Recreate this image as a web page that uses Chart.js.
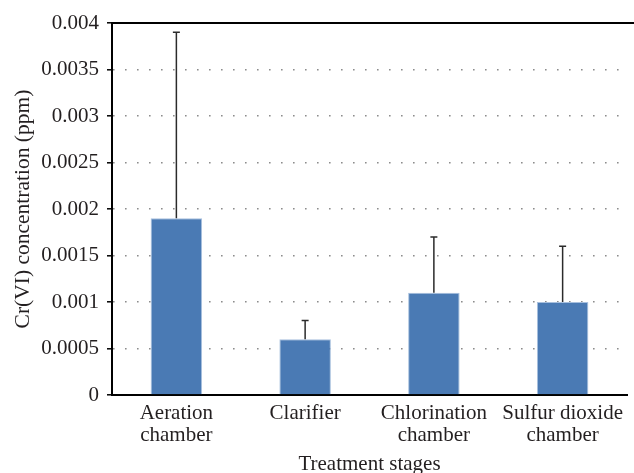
<!DOCTYPE html>
<html>
<head>
<meta charset="utf-8">
<script src="https://cdn.jsdelivr.net/npm/chart.js@4/dist/chart.umd.min.js"></script>
<style>
  html, body { margin: 0; padding: 0; background: #fff; }
  #wrap { width: 634px; height: 473px; }
</style>
</head>
<body>
<div id="wrap"><canvas id="c" width="634" height="473"></canvas></div>
<script>
// Treatment stages and measured Cr(VI) concentrations (ppm)
const stages = [["Aeration", "chamber"], "Clarifier", ["Chlorination", "chamber"], ["Sulfur dioxide", "chamber"]];
const concentration = [0.0019, 0.0006, 0.0011, 0.0010];
const upperError = [0.0020, 0.0002, 0.0006, 0.0006];
const yTickValues = [0, 0.0005, 0.001, 0.0015, 0.002, 0.0025, 0.003, 0.0035, 0.004];
const yTickLabels = ["0", "0.0005", "0.001", "0.0015", "0.002", "0.0025", "0.003", "0.0035", "0.004"];

const FAMILY = "'Liberation Serif', 'DejaVu Serif', serif";
const FONT = { family: FAMILY, size: 21, lineHeight: 1.05 };
const TEXT = '#231f20';

// Upward-only error bars drawn from each bar's value
const errorBars = {
  id: 'errorBars',
  afterDatasetsDraw(chart) {
    const ctx = chart.ctx;
    const meta = chart.getDatasetMeta(0);
    const y = chart.scales.y;
    ctx.save();
    ctx.strokeStyle = '#2b2b2b';
    ctx.lineWidth = 1.5;
    meta.data.forEach((bar, i) => {
      const x = bar.x;
      const y0 = y.getPixelForValue(concentration[i]);
      const y1 = y.getPixelForValue(concentration[i] + upperError[i]);
      ctx.beginPath();
      ctx.moveTo(x, y0);
      ctx.lineTo(x, y1);
      ctx.moveTo(x - 3.5, y1);
      ctx.lineTo(x + 3.5, y1);
      ctx.stroke();
    });
    ctx.restore();
  }
};

// Solid frame line along the top of the value axis
const topLine = {
  id: 'topLine',
  afterDraw(chart) {
    const ctx = chart.ctx;
    const y = chart.scales.y;
    const py = Math.round(y.getPixelForValue(y.max));
    ctx.save();
    ctx.strokeStyle = '#000';
    ctx.lineWidth = 2;
    ctx.beginPath();
    ctx.moveTo(chart.chartArea.left - 1, py);
    ctx.lineTo(chart.width, py);
    ctx.stroke();
    ctx.restore();
  }
};

new Chart(document.getElementById('c'), {
  type: 'bar',
  data: {
    labels: stages,
    datasets: [{
      data: concentration,
      backgroundColor: '#4a7ab4',
      borderColor: '#a8c0de',
      borderWidth: 1,
      categoryPercentage: 1,
      barPercentage: 0.4
    }]
  },
  options: {
    responsive: false,
    animation: false,
    devicePixelRatio: 1,
    layout: { padding: { top: 23, right: 7, left: 0, bottom: 0 } },
    plugins: { legend: { display: false }, tooltip: { enabled: false } },
    scales: {
      x: {
        grid: { display: false, drawTicks: false },
        border: { color: '#000', width: 2 },
        ticks: { color: TEXT, font: FONT, padding: 7, maxRotation: 0, autoSkip: false },
        title: { display: true, text: 'Treatment stages', color: TEXT, font: { family: FAMILY, size: 21, lineHeight: 0.8 }, padding: { top: 10, bottom: 0 } },
        afterFit(scale) { scale.height = 78; }
      },
      y: {
        min: 0,
        max: 0.004,
        afterBuildTicks(scale) { scale.ticks = yTickValues.map(v => ({ value: v })); },
        grid: {
          color: '#8c8c8c',
          lineWidth: 1.6,
          tickBorderDash: [],
          tickColor: '#000',
          tickLength: 5,
          tickWidth: 1.5
        },
        border: { color: '#000', width: 2, dash: [1.6, 10.4] },
        ticks: {
          color: TEXT,
          font: FONT,
          padding: 8,
          callback: (v) => yTickLabels[yTickValues.indexOf(v)]
        },
        title: { display: true, text: 'Cr(VI) concentration (ppm)', color: TEXT, font: { family: FAMILY, size: 21.5 }, padding: { top: 10, bottom: 0 } },
        afterFit(scale) { scale.width = 112; }
      }
    }
  },
  plugins: [errorBars, topLine]
});
</script>
</body>
</html>
